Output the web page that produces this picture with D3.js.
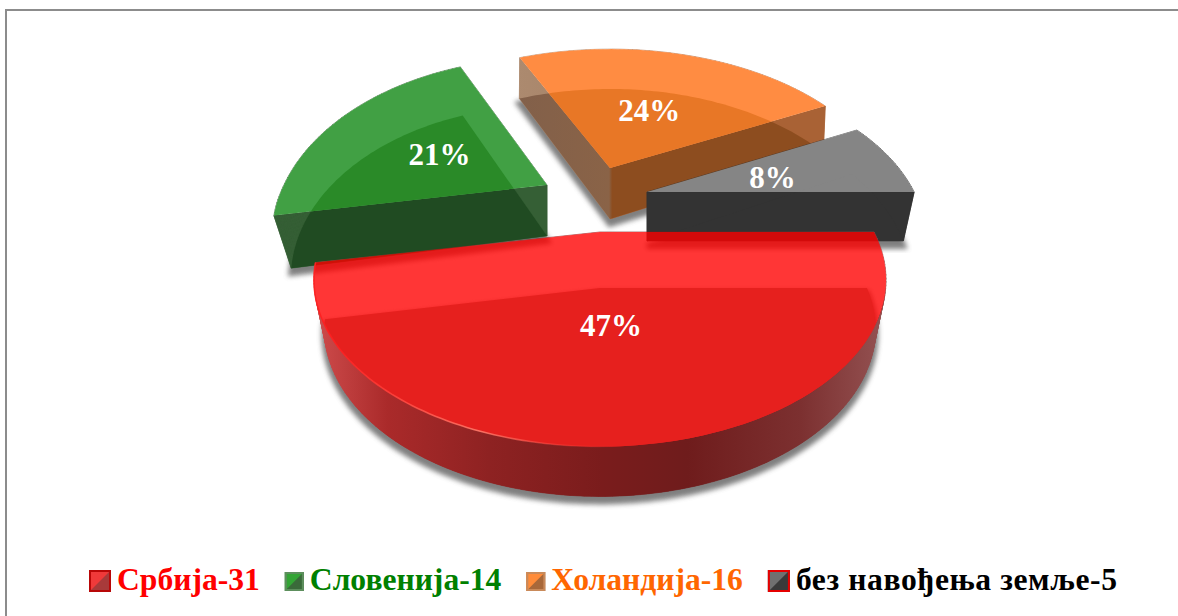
<!DOCTYPE html>
<html>
<head>
<meta charset="utf-8">
<script src="https://cdn.jsdelivr.net/npm/d3@7"></script>
<style>
	html, body { margin: 0; padding: 0; background: #fff; }
	svg { display: block; }
	text { font-family: "Liberation Serif", serif; font-weight: bold; }
</style>
</head>
<body>
<script>
// chart data
const categories = ["Србија", "Словенија", "Холандија", "без навођења земље"];
const counts = [31, 14, 16, 5];
const percentLabels = ["47%", "21%", "24%", "8%"];

// SVG size
const width = 1178,
	height = 616;

// perspective of the pie disk, top face and bottom face
const center = {x: 600, y: 232};
const topDisk = {a: 153, b: 274, k: 0.287};
const bottomDisk = {a: 162, b: 267, k: 0.246};

// how each slice was pulled out of the pie, in order red, green, orange, gray
const sliceOffset = [[0, 0], [-53, -47], [10, -64], [47, -40]];
const sliceStretchX = [1, 0.96, 1, 0.975];
const bottomStretchX = [1, 0.93, 1, 0.96];
const sliceStretchFar = [1, 1.07, 1, 1];
const sliceDepth = [56, 51, 51, 49];
const bottomSquash = [0.97, 1, 1, 1];
const labelRadius = [0.52, 0.47, 0.47, 0.5];
const labelShift = [[-5, 0], [-4, 3], [2, 3], [0, 3]];
const legendSpacing = [0, 0, 0, 0.6];
const drawOrder = [2, 3, 1, 0];

const sliceStyle = [
	{top: "#ff0000", topOpacity: 0.79, inner: "#e6201e", wallLight: "url(#wall-red)", wallDark: "url(#wall-red)"},
	{top: "#41a044", topOpacity: 1, inner: "#2a8a28", wallLight: "#355f35", wallDark: "#204b22"},
	{top: "#ff8c42", topOpacity: 1, inner: "#e87726", wallLight: "url(#wall-orange)", wallDark: "url(#wall-orange-dark)"},
	{top: "#858585", topOpacity: 1, inner: "#858585", wallLight: "#333333", wallDark: "#333333"}
];

const legendStyle = [
	{text: "#ff0000", light: "#ef3a3a", dark: "#a83a3a", border: "#b80808"},
	{text: "#008000", light: "#33a535", dark: "#3a6a3a", border: "#5d8f5d"},
	{text: "#ff6600", light: "#ff8c3a", dark: "#a8683a", border: "#c98a5a"},
	{text: "#000000", light: "#707070", dark: "#3a3a3a", border: "#e60000"}
];

let svg = d3.select("body").append("svg")
	.attr("width", width)
	.attr("height", height);

let defs = svg.append("defs");

defs.append("filter")
	.attr("id", "soft")
	.attr("x", "-10%").attr("y", "-10%")
	.attr("width", "120%").attr("height", "120%")
	.append("feGaussianBlur")
	.attr("stdDeviation", 2.5);

function addGradient(id, x1, x2, stops) {
	let g = defs.append("linearGradient")
		.attr("id", id)
		.attr("gradientUnits", "userSpaceOnUse")
		.attr("x1", x1).attr("x2", x2)
		.attr("y1", 0).attr("y2", 0);
	stops.forEach(function(s) {
		g.append("stop").attr("offset", s[0]).attr("stop-color", s[1]).attr("stop-opacity", s[2] === undefined ? 1 : s[2]);
	});
}

addGradient("wall-red", 320, 885, [
	[0, "#cc4a4a"], [0.12, "#aa2a2a"], [0.3, "#8e2222"], [0.5, "#7a1c1c"],
	[0.65, "#6f1c1c"], [0.85, "#7c3030"], [1, "#945252"]
]);
addGradient("wall-orange", 517, 824, [
	[0, "#ac8a6f"], [0.3, "#a58267"], [0.31, "#a96235"], [1, "#a96235"]
]);
addGradient("wall-orange-dark", 517, 824, [
	[0, "#82604a"], [0.3, "#8a6347"], [0.31, "#8d4d1f"], [1, "#8d4d1f"]
]);
addGradient("rim-light", 340, 620, [
	[0, "#ff2020", 0.9], [0.5, "#ff7a6a", 0.9], [1, "#ff3030", 0]
]);

// border of the chart area, only top and left are visible
svg.append("path")
	.attr("d", "M6,616V10H1178")
	.attr("fill", "none")
	.attr("stroke", "#8c8c8c")
	.attr("stroke-width", 2);

// pie angles start east and run clockwise
const slices = d3.pie().sort(null).startAngle(Math.PI / 2).endAngle(Math.PI * 2.5)(counts);

const line = d3.line();

// project a point of the unit disk onto the screen
function project(disk, u, v) {
	const w = 1 - disk.k * v;
	return [disk.b * u / w, disk.a * v / w];
}

function toUnit(angle, r) {
	return [r * Math.sin(angle), -r * Math.cos(angle)];
}

function arcAngles(s) {
	const steps = Math.ceil((s.endAngle - s.startAngle) / 0.02);
	return d3.range(steps + 1).map(function(i) {
		return s.startAngle + (s.endAngle - s.startAngle) * i / steps;
	});
}

function topPoint(i, u, v) {
	const p = project(topDisk, u, v);
	const far = p[1] < 0 ? sliceStretchFar[i] : 1;
	return [center.x + sliceOffset[i][0] + p[0] * sliceStretchX[i], center.y + sliceOffset[i][1] + p[1] * far];
}

function bottomPoint(i, u, v) {
	const p = project(bottomDisk, u, v);
	return [
		center.x + sliceOffset[i][0] + p[0] * bottomStretchX[i],
		center.y + sliceOffset[i][1] + sliceDepth[i] + p[1] * bottomSquash[i]
	];
}

function outline(i, pointFn) {
	const arc = arcAngles(slices[i]).map(function(a) {
		const t = toUnit(a, 1);
		return pointFn(i, t[0], t[1]);
	});
	return [pointFn(i, 0, 0)].concat(arc);
}

drawOrder.forEach(function(i) {
	const style = sliceStyle[i];
	const topShape = outline(i, topPoint);
	const bottomShape = outline(i, bottomPoint);
	const topPath = line(topShape) + "Z";
	const bottomPath = line(bottomShape) + "Z";

	defs.append("clipPath").attr("id", "in-top-" + i)
		.append("path").attr("d", topPath);
	defs.append("clipPath").attr("id", "out-top-" + i)
		.append("path")
		.attr("d", "M0,0H" + width + "V" + height + "H0Z" + topPath)
		.attr("clip-rule", "evenodd");

	let g = svg.append("g").attr("class", "slice");

	// soft shadow below the slice
	g.append("path")
		.attr("d", bottomPath)
		.attr("transform", "translate(0,5)")
		.attr("fill", "#555555")
		.attr("stroke", "#555555")
		.attr("stroke-width", 6)
		.attr("opacity", 0.75)
		.attr("filter", "url(#soft)");

	// walls and bottom face, only where the top face does not cover them
	let outside = g.append("g").attr("clip-path", "url(#out-top-" + i + ")");
	topShape.forEach(function(p, j) {
		const n = (j + 1) % topShape.length;
		outside.append("path")
			.attr("d", line([p, topShape[n], bottomShape[n], bottomShape[j]]) + "Z")
			.attr("fill", style.wallLight)
			.attr("stroke", style.wallLight)
			.attr("stroke-width", 0.6);
	});
	outside.append("path").attr("d", bottomPath).attr("fill", style.wallDark);

	// top face, with the bottom face seen through it
	g.append("path")
		.attr("d", topPath)
		.attr("fill", style.top)
		.attr("fill-opacity", style.topOpacity);
	g.append("path")
		.attr("d", bottomPath)
		.attr("fill", style.inner)
		.attr("clip-path", "url(#in-top-" + i + ")");
});

// thin light on the front rim of the big slice
svg.append("path")
	.attr("d", line(outline(0, topPoint).slice(1).filter(function(p) { return p[0] < 620; })))
	.attr("fill", "none")
	.attr("stroke", "url(#rim-light)")
	.attr("stroke-width", 1.6);

// percent labels
svg.selectAll("text.percent")
	.data(slices)
	.enter()
	.append("text")
	.attr("class", "percent")
	.attr("text-anchor", "middle")
	.attr("font-size", 31)
	.attr("fill", "#fff")
	.attr("dy", "0.34em")
	.attr("transform", function(d, i) {
		const t = toUnit((d.startAngle + d.endAngle) / 2, labelRadius[i]);
		const p = topPoint(i, t[0], t[1]);
		return "translate(" + (p[0] + labelShift[i][0]) + "," + (p[1] + labelShift[i][1]) + ")";
	})
	.text(function(d, i) { return percentLabels[i]; });

// legend flows left to right from the measured text widths
let legendX = 89;
const legendBaseline = 590,
	markerSize = 22,
	markerTop = 570;

categories.forEach(function(name, i) {
	const style = legendStyle[i];
	const size = i === 0 || i === 3 ? markerSize : markerSize - 3;
	const top = i === 0 || i === 3 ? markerTop : markerTop + 2;
	let g = svg.append("g").attr("class", "legend");
	g.append("rect")
		.attr("x", legendX).attr("y", top)
		.attr("width", size).attr("height", size)
		.attr("fill", style.dark);
	g.append("path")
		.attr("d", line([[legendX, top], [legendX + size, top], [legendX, top + size]]) + "Z")
		.attr("fill", style.light);
	g.append("rect")
		.attr("x", legendX + 1).attr("y", top + 1)
		.attr("width", size - 2).attr("height", size - 2)
		.attr("fill", "none")
		.attr("stroke", style.border)
		.attr("stroke-width", 2);
	let label = g.append("text")
		.attr("x", legendX + size + 6)
		.attr("y", legendBaseline)
		.attr("font-size", 31.6)
		.attr("letter-spacing", legendSpacing[i])
		.attr("fill", style.text)
		.text(name + "-" + counts[i]);
	legendX += size + 6 + label.node().getComputedTextLength() + 25;
});
</script>
</body>
</html>
